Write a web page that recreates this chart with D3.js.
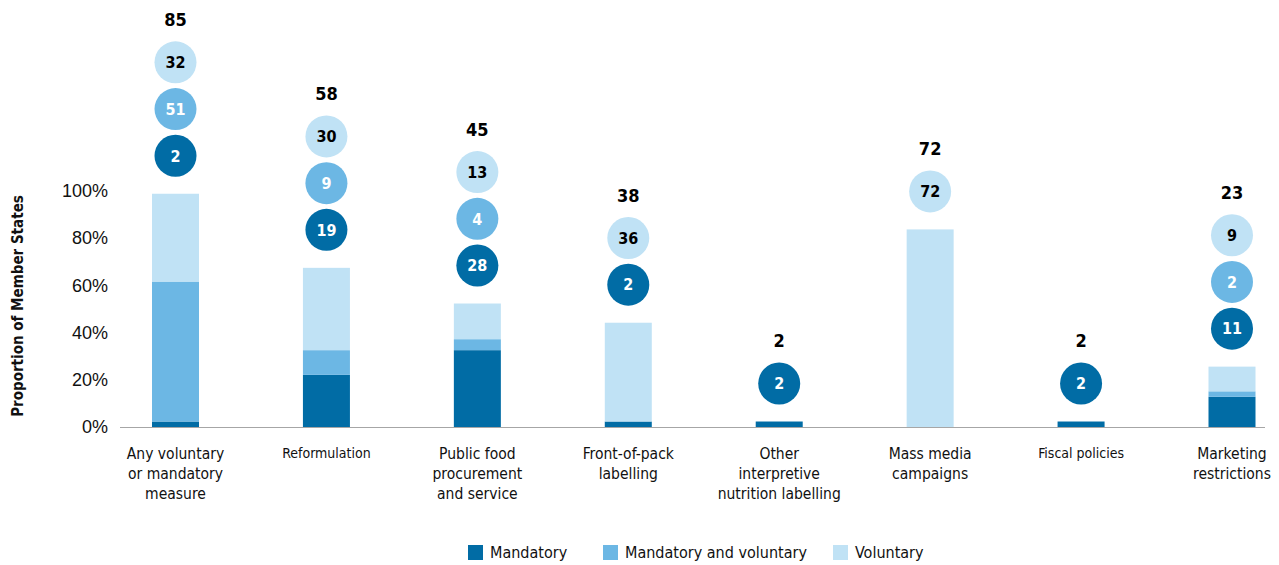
<!DOCTYPE html>
<html>
<head>
<meta charset="utf-8">
<script src="https://cdn.jsdelivr.net/npm/d3@7"></script>
<style>
  body { margin: 0; background: #fff; }
  svg { display: block; font-family: "DejaVu Sans Condensed", "DejaVu Sans", sans-serif; font-stretch: condensed; }
</style>
</head>
<body>
<svg id="chart" width="1279" height="565"></svg>
<script>
const categories = [
  ['Any voluntary', 'or mandatory', 'measure'],
  ['Reformulation'],
  ['Public food', 'procurement', 'and service'],
  ['Front-of-pack', 'labelling'],
  ['Other', 'interpretive', 'nutrition labelling'],
  ['Mass media', 'campaigns'],
  ['Fiscal policies'],
  ['Marketing', 'restrictions']
];
const smallLabels = ['Reformulation', 'Fiscal policies'];
const mandatory     = [2, 19, 28, 2, 2, 0, 2, 11];
const mandVoluntary = [51, 9, 4, 0, 0, 0, 0, 2];
const voluntary     = [32, 30, 13, 36, 0, 72, 0, 9];
const totals        = [85, 58, 45, 38, 2, 72, 2, 23];
const denominator = 86;
const yTicks = [0, 20, 40, 60, 80, 100];

const seriesNames = ['Mandatory', 'Mandatory and voluntary', 'Voluntary'];
const colors = ['#016ca5', '#6cb7e4', '#c0e2f5'];
const textColors = ['#fff', '#fff', '#000'];

const svg = d3.select('#chart');
const x = d3.scalePoint().domain(d3.range(categories.length)).range([175.5, 1232]);
const y = d3.scaleLinear().domain([0, 100]).range([427, 191]);
const barW = 47;

const rows = categories.map((c, i) => ({ i, m: mandatory[i], mv: mandVoluntary[i], v: voluntary[i] }));
const stack = d3.stack().keys(['m', 'mv', 'v'])(rows);

// y axis labels
svg.append('g')
  .attr('transform', 'translate(108,0)')
  .call(d3.axisLeft(y).tickValues(yTicks).tickFormat(d => d + '%').tickSize(0).tickPadding(0))
  .call(g => g.select('.domain').remove())
  .selectAll('text')
  .attr('font-size', 18)
  .attr('fill', '#111')
  .attr('font-family', 'inherit');

svg.append('text')
  .attr('transform', 'translate(23,306) rotate(-90)')
  .attr('text-anchor', 'middle')
  .attr('font-size', 15)
  .attr('font-weight', 'bold')
  .attr('fill', '#111')
  .text('Proportion of Member States');

// bars
stack.forEach((s, k) => {
  svg.append('g').selectAll('rect')
    .data(s.filter(d => d[1] > d[0]))
    .join('rect')
    .attr('x', d => x(d.data.i) - barW / 2)
    .attr('width', barW)
    .attr('y', d => y(d[1] / denominator * 100))
    .attr('height', d => y(d[0] / denominator * 100) - y(d[1] / denominator * 100))
    .attr('fill', colors[k]);
});

// baseline
svg.append('line')
  .attr('x1', 120).attr('x2', 1265)
  .attr('y1', y(0) + 0.5).attr('y2', y(0) + 0.5)
  .attr('stroke', '#a6a6a6').attr('stroke-width', 1);

// circles + totals
const step = 46.7;
rows.forEach(r => {
  const vals = [r.m, r.mv, r.v];
  const top = y((r.m + r.mv + r.v) / denominator * 100);
  let cy = top - 38;
  const g = svg.append('g');
  vals.forEach((v, k) => {
    if (!v) return;
    g.append('circle')
      .attr('cx', x(r.i)).attr('cy', cy).attr('r', 21)
      .attr('fill', colors[k]);
    g.append('text')
      .attr('x', x(r.i)).attr('y', cy)
      .attr('dy', '0.36em')
      .attr('text-anchor', 'middle')
      .attr('font-size', 16)
      .attr('font-weight', 'bold')
      .attr('fill', textColors[k])
      .text(v);
    cy -= step;
  });
  g.append('text')
    .attr('x', x(r.i)).attr('y', cy + step - 43)
    .attr('dy', '0.36em')
    .attr('text-anchor', 'middle')
    .attr('font-size', 18)
    .attr('font-weight', 'bold')
    .attr('fill', '#000')
    .text(totals[r.i]);
});

// category labels
categories.forEach((lines, i) => {
  const small = smallLabels.includes(lines[0]);
  const t = svg.append('text')
    .attr('text-anchor', 'middle')
    .attr('font-size', small ? 14 : 15.5)
    .attr('fill', '#111');
  lines.forEach((ln, j) => {
    t.append('tspan')
      .attr('x', x(i))
      .attr('y', 453 + j * 20)
      .attr('dy', '0.36em')
      .text(ln);
  });
});

// legend
const legendX = [468, 603, 833];
seriesNames.forEach((name, k) => {
  svg.append('rect')
    .attr('x', legendX[k]).attr('y', 545)
    .attr('width', 15).attr('height', 15)
    .attr('fill', colors[k]);
  svg.append('text')
    .attr('x', legendX[k] + 22).attr('y', 552)
    .attr('dy', '0.36em')
    .attr('font-size', 16)
    .attr('fill', '#111')
    .text(name);
});
</script>
</body>
</html>
